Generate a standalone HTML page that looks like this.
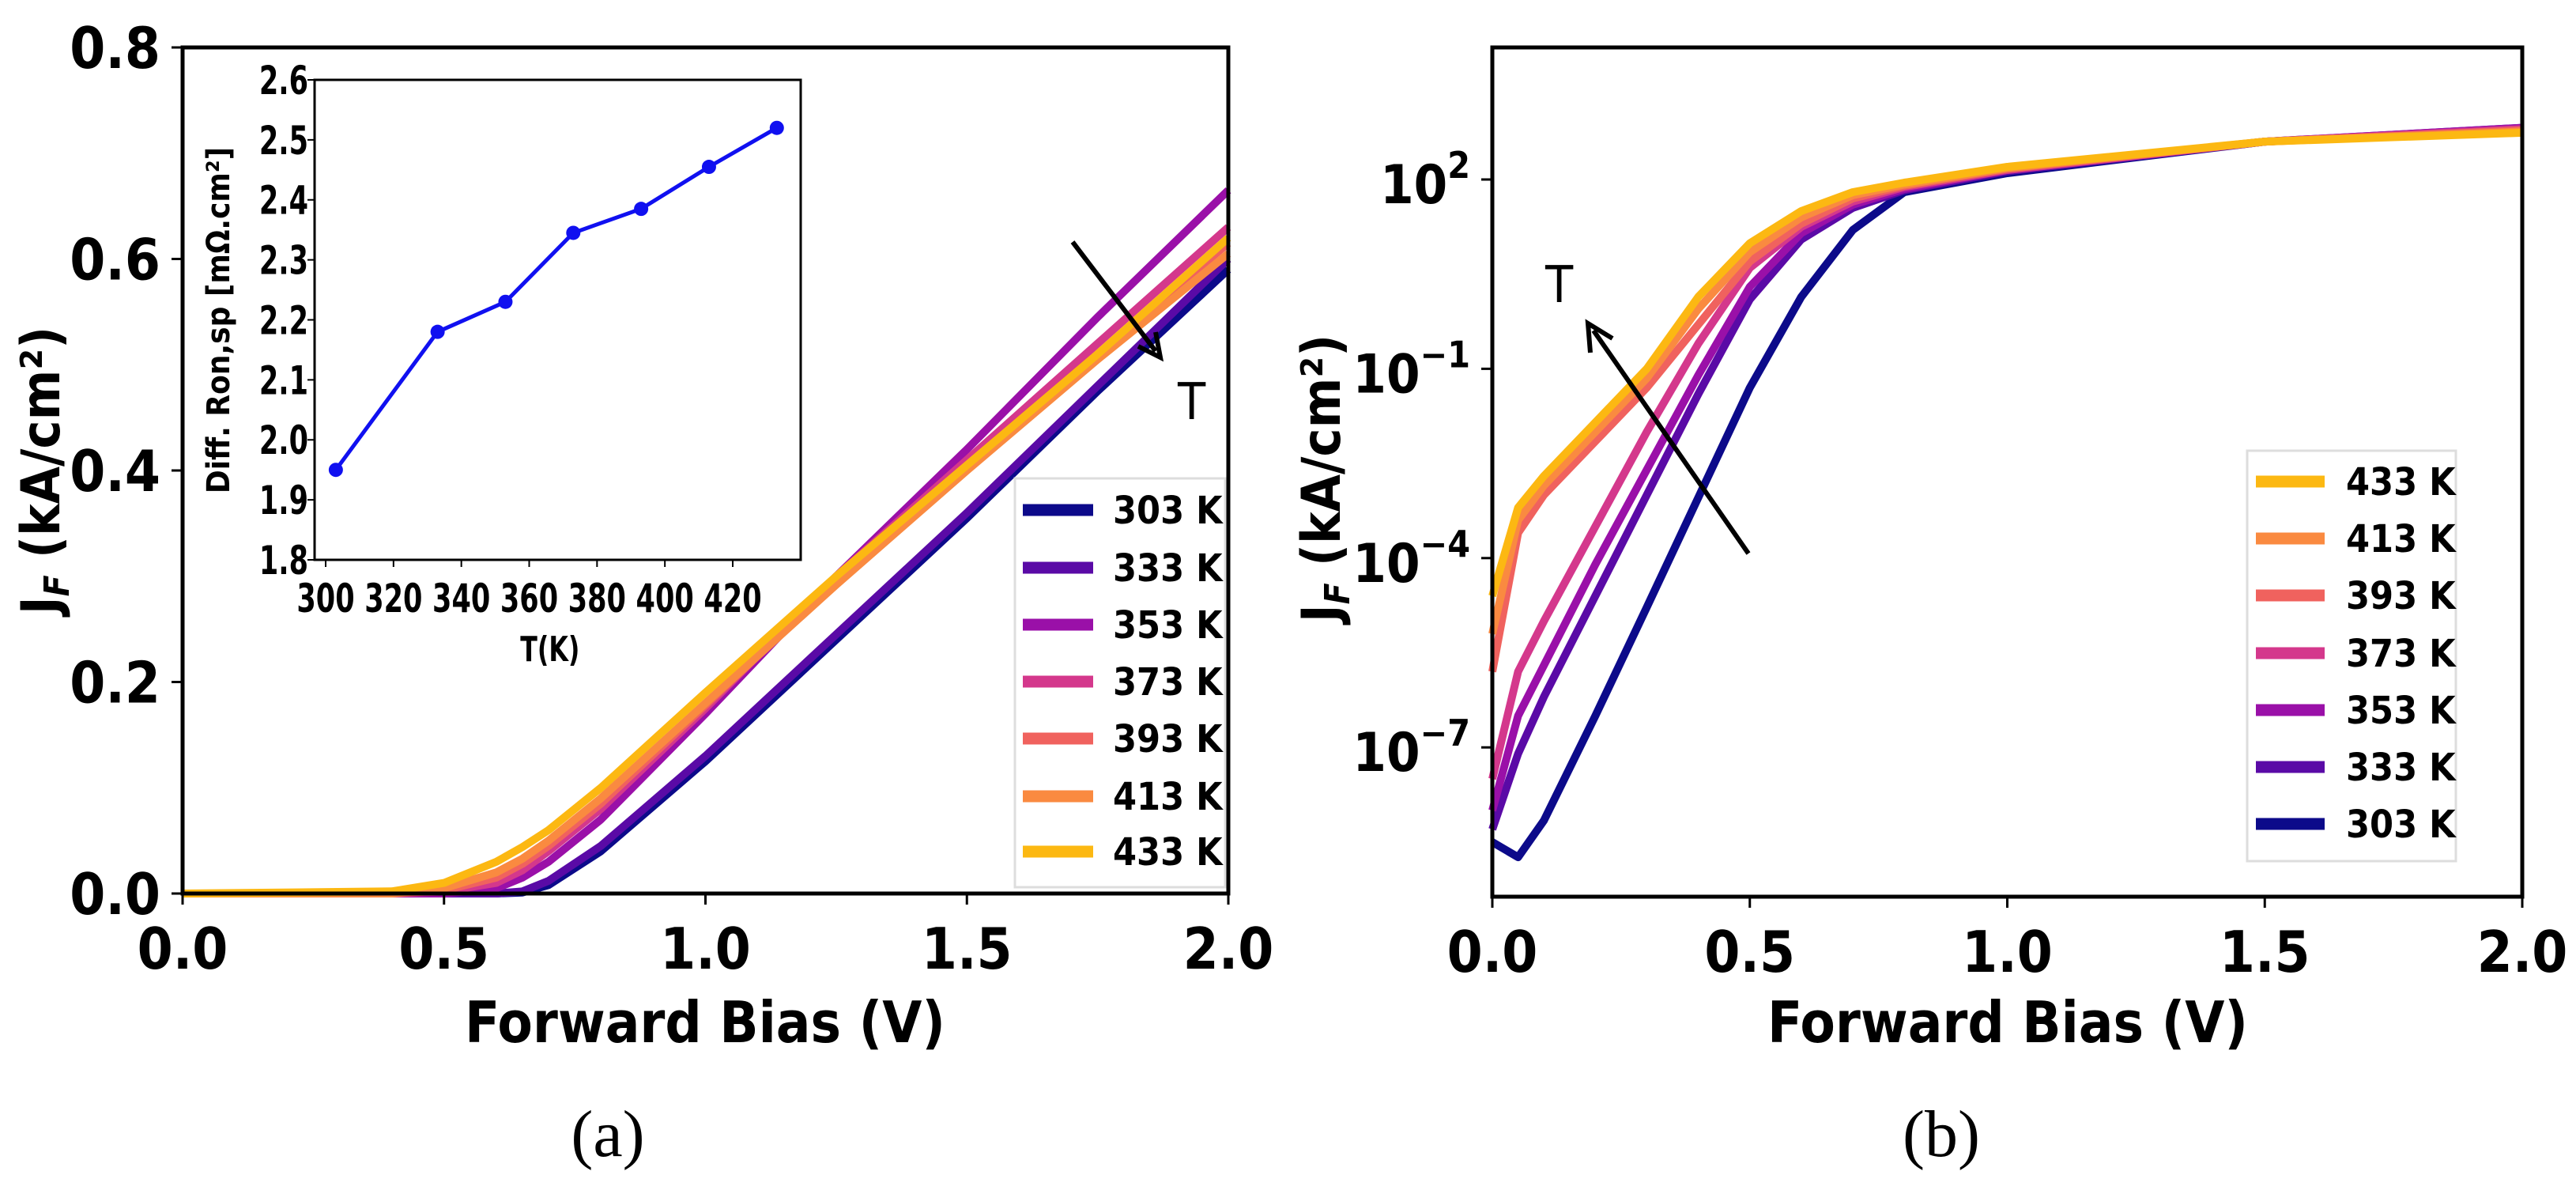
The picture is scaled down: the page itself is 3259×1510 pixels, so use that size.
<!DOCTYPE html>
<html><head><meta charset="utf-8"><style>
html,body{margin:0;padding:0;background:#fff;}
svg{display:block;}
text{font-family:"DejaVu Sans Condensed","DejaVu Sans","Liberation Sans",sans-serif;font-weight:bold;fill:#000;}
</style></head><body>
<svg id="fig" width="3259" height="1510" viewBox="0 0 3259 1510" xmlns="http://www.w3.org/2000/svg">
<g id="pa"></g>
<g id="pb"></g>
</svg>
<script>
const temps=["303 K","333 K","353 K","373 K","393 K","413 K","433 K"];
const colors=["#0c0a8a","#5a0aa6","#9a10a8","#d4388c","#f0625e","#fa8a40","#fcb812"];
const xA=[0,0.4,0.5,0.6,0.65,0.7,0.8,1.0,1.25,1.5,1.75,2.0];
const jA303=[0,0,0,0,0.001,0.008,0.04,0.125,0.24,0.355,0.475,0.59];
const jA333=[0,0,0,0,0.002,0.012,0.045,0.13,0.245,0.36,0.48,0.60];
const jA353=[0,0,0,0.005,0.015,0.03,0.07,0.17,0.30,0.42,0.545,0.665];
const jA373=[0,0,0.002,0.01,0.022,0.04,0.08,0.175,0.30,0.41,0.52,0.63];
const jA393=[0,0,0.003,0.015,0.028,0.045,0.085,0.178,0.295,0.405,0.51,0.615];
const jA413=[0,0,0.005,0.02,0.033,0.05,0.09,0.18,0.292,0.40,0.505,0.605];
const jA433=[0,0.002,0.01,0.03,0.044,0.06,0.10,0.19,0.30,0.405,0.51,0.62];
const xB=[0,0.05,0.1,0.2,0.3,0.4,0.5,0.6,0.7,0.8,1.0,1.5,2.0];
const logJ303=[-8.5,-8.74,-8.16,-6.5,-4.78,-3.04,-1.3,0.14,1.2,1.8,2.1,2.6,2.8];
const logJ333=[-8.3,-7.1,-6.2,-4.6,-3.0,-1.4,0.1,1.05,1.55,1.83,2.13,2.6,2.82];
const logJ353=[-8.0,-6.5,-5.7,-4.1,-2.6,-1.1,0.3,1.15,1.6,1.85,2.15,2.6,2.82];
const logJ373=[-7.5,-5.8,-5.0,-3.5,-2.0,-0.6,0.6,1.25,1.65,1.88,2.15,2.6,2.8];
const logJ393=[-5.8,-3.6,-3.0,-2.15,-1.3,-0.3,0.7,1.3,1.7,1.9,2.17,2.6,2.78];
const logJ413=[-5.2,-3.4,-2.85,-2.0,-1.15,-0.05,0.85,1.4,1.75,1.92,2.18,2.6,2.76];
const logJ433=[-4.6,-3.2,-2.7,-1.85,-1.0,0.14,0.99,1.5,1.8,1.95,2.2,2.6,2.74];
const insetT=[303,333,353,373,393,413,433];
const insetR=[1.95,2.18,2.23,2.345,2.385,2.455,2.52];
const xTicks=["0.0","0.5","1.0","1.5","2.0"];
const yTicksA=["0.0","0.2","0.4","0.6","0.8"];
const yTicksB=[-7,-4,-1,2];
const insetXTicks=[300,320,340,360,380,400,420];
const insetYTicks=["1.8","1.9","2.0","2.1","2.2","2.3","2.4","2.5","2.6"];

const NS="http://www.w3.org/2000/svg";
function mk(parent,tag,attrs,txt){const e=document.createElementNS(NS,tag);for(const k in attrs)e.setAttribute(k,attrs[k]);if(txt!==undefined)e.textContent=txt;parent.appendChild(e);return e;}
function path(pts){return pts.map((p,i)=>(i?"L":"M")+p[0].toFixed(1)+","+p[1].toFixed(1)).join("");}

// ---------- Panel A ----------
const pa=document.getElementById('pa');
const A={x0:231,x1:1554,y0:1130,y1:60};
const axA=v=>A.x0+v/2*(A.x1-A.x0);
const ayA=v=>A.y0-v/0.8*(A.y0-A.y1);
const seriesA=[jA303,jA333,jA353,jA373,jA393,jA413,jA433];
seriesA.forEach((s,i)=>{
  const p=mk(pa,'path',{d:path(xA.map((x,k)=>[axA(x),ayA(s[k])])),fill:'none',stroke:colors[i],'stroke-width':10,'stroke-linejoin':'round'});
  
  
});
const frA=mk(pa,'rect',{x:A.x0,y:A.y1,width:A.x1-A.x0,height:A.y0-A.y1,fill:'none',stroke:'#000','stroke-width':5});

xTicks.forEach((t,i)=>{const x=axA(+t);
  mk(pa,'line',{x1:x,y1:A.y0,x2:x,y2:A.y0+14,stroke:'#000','stroke-width':3});
  const e=mk(pa,'text',{x:x,y:A.y0+95,'font-size':72,'text-anchor':'middle'},t);
  });
yTicksA.forEach(t=>{const y=ayA(+t);
  mk(pa,'line',{x1:A.x0-14,y1:y,x2:A.x0,y2:y,stroke:'#000','stroke-width':3});
  const e=mk(pa,'text',{x:203,y:y+26,'font-size':72,'text-anchor':'end'},t);
  });
let t=mk(pa,'text',{x:892,y:1318,'font-size':72,'text-anchor':'middle'},'Forward Bias  (V)');

t=mk(pa,'text',{x:0,y:0,'font-size':68,'text-anchor':'middle',transform:'translate(75,595) rotate(-90)'});
t.innerHTML='J<tspan font-size="44" dy="12" font-style="italic">F</tspan><tspan dy="-12"> (kA/cm²)</tspan>';

mk(pa,'line',{x1:1357,y1:306,x2:1462,y2:444,stroke:'#000','stroke-width':6});
mk(pa,'path',{d:'M1440,438 L1468,452 L1462,420',fill:'none',stroke:'#000','stroke-width':6});
t=mk(pa,'text',{x:1490,y:530,'font-size':64,style:'font-weight:normal'},'T');

const lgA=mk(pa,'g',{});

mk(lgA,'rect',{x:1284,y:605,width:266,height:517,fill:'#fff',stroke:'#ddd','stroke-width':3});
const lyA=[645,718,790,862,934,1007,1077];
temps.forEach((n,i)=>{
  mk(lgA,'line',{x1:1294,y1:lyA[i],x2:1383,y2:lyA[i],stroke:colors[i],'stroke-width':15});
  const e=mk(lgA,'text',{x:1408,y:lyA[i]+17,'font-size':48},n);
  });
// inset
const ins=mk(pa,'g',{});

const I={x0:398,x1:1013,y0:708,y1:101};
const ixI=v=>412+(v-300)/120*(927-412);
const iyI=v=>I.y0-(v-1.8)/0.8*(I.y0-I.y1);
mk(ins,'rect',{x:I.x0,y:I.y1,width:I.x1-I.x0,height:I.y0-I.y1,fill:'#fff',stroke:'#000','stroke-width':3});
insetXTicks.forEach(v=>{const x=ixI(v);
  mk(ins,'line',{x1:x,y1:I.y0,x2:x,y2:I.y0+9,stroke:'#000','stroke-width':2});
  const e=mk(ins,'text',{x:x,y:774,'font-size':50,'text-anchor':'middle',transform:`translate(${x*0.22},0) scale(0.78,1)`},v);
  });
insetYTicks.forEach(v=>{const y=iyI(+v);
  mk(ins,'line',{x1:I.x0-9,y1:y,x2:I.x0,y2:y,stroke:'#000','stroke-width':2});
  const e=mk(ins,'text',{x:390,y:y+18,'font-size':50,'text-anchor':'end',transform:`translate(${390*0.22},0) scale(0.78,1)`},v);
  });
t=mk(ins,'text',{x:696,y:836,'font-size':44,'text-anchor':'middle',transform:'translate(139,0) scale(0.8,1)'},'T(K)');

t=mk(ins,'text',{x:0,y:0,'font-size':40,'text-anchor':'middle',transform:'translate(290,405) rotate(-90)'},'Diff. Ron,sp [mΩ.cm²]');

t=mk(ins,'path',{d:path(insetT.map((v,i)=>[ixI(v),iyI(insetR[i])])),fill:'none',stroke:'#1010f0','stroke-width':5});

insetT.forEach((v,i)=>{const c=mk(ins,'circle',{cx:ixI(v),cy:iyI(insetR[i]),r:9,fill:'#1010f0'});
  });
t=mk(pa,'text',{x:769,y:1462,'font-size':84,'text-anchor':'middle',style:'font-family:"Liberation Serif",serif;font-weight:normal'},'(a)');


// ---------- Panel B ----------
const pb=document.getElementById('pb');
const B={x0:1888,x1:3191,y0:1134,y1:60};
const axB=v=>B.x0+v/2*(B.x1-B.x0);
const ayB=l=>227-(l-2)*79.8;
const seriesB=[logJ303,logJ333,logJ353,logJ373,logJ393,logJ413,logJ433];
seriesB.forEach((s,i)=>{
  const p=mk(pb,'path',{d:path(xB.map((x,k)=>[axB(x),ayB(s[k])])),fill:'none',stroke:colors[i],'stroke-width':10,'stroke-linejoin':'round'});
  
  
});
const frB=mk(pb,'rect',{x:B.x0,y:B.y1,width:B.x1-B.x0,height:B.y0-B.y1,fill:'none',stroke:'#000','stroke-width':5});

xTicks.forEach(tk=>{const x=axB(+tk);
  mk(pb,'line',{x1:x,y1:B.y0,x2:x,y2:B.y0+14,stroke:'#000','stroke-width':3});
  const e=mk(pb,'text',{x:x,y:B.y0+95,'font-size':72,'text-anchor':'middle'},tk);
  });
yTicksB.forEach(l=>{const y=ayB(l);
  mk(pb,'line',{x1:B.x0-14,y1:y,x2:B.x0,y2:y,stroke:'#000','stroke-width':3});
  const e=mk(pb,'text',{x:1860,y:y+30,'font-size':68,'text-anchor':'end'});
  e.innerHTML='10<tspan font-size="46" dy="-32">'+(l<0?'−'+(-l):l)+'</tspan>';
  });
t=mk(pb,'text',{x:2540,y:1318,'font-size':72,'text-anchor':'middle'},'Forward Bias  (V)');

t=mk(pb,'text',{x:0,y:0,'font-size':68,'text-anchor':'middle',transform:'translate(1695,605) rotate(-90)'});
t.innerHTML='J<tspan font-size="44" dy="12" font-style="italic">F</tspan><tspan dy="-12"> (kA/cm²)</tspan>';

mk(pb,'line',{x1:2212,y1:700,x2:2016,y2:418,stroke:'#000','stroke-width':6});
mk(pb,'path',{d:'M2012,446 L2009,409 L2040,428',fill:'none',stroke:'#000','stroke-width':6});
t=mk(pb,'text',{x:1955,y:382,'font-size':64,style:'font-weight:normal'},'T');

const lgB=mk(pb,'g',{});

mk(lgB,'rect',{x:2843,y:570,width:264,height:519,fill:'#fff',stroke:'#ddd','stroke-width':3});
const lyB=[609,681,753,826,898,970,1042];
for(let j=0;j<7;j++){const i=6-j;
  mk(lgB,'line',{x1:2854,y1:lyB[j],x2:2941,y2:lyB[j],stroke:colors[i],'stroke-width':15});
  const e=mk(lgB,'text',{x:2968,y:lyB[j]+17,'font-size':48},temps[i]);
  }
t=mk(pb,'text',{x:2456,y:1462,'font-size':84,'text-anchor':'middle',style:'font-family:"Liberation Serif",serif;font-weight:normal'},'(b)');

</script>
</body></html>
